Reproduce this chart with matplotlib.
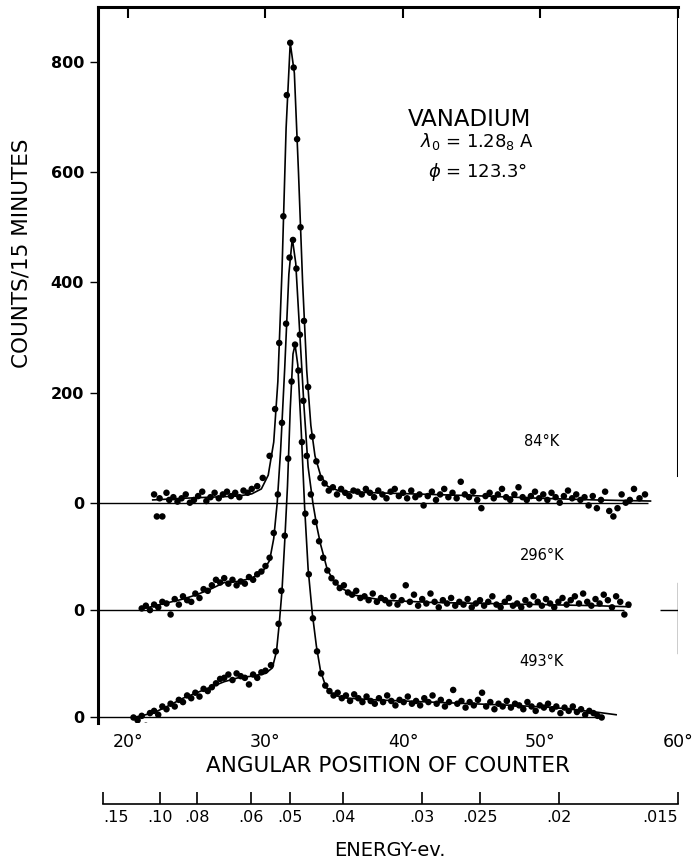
import numpy as np
import matplotlib
matplotlib.use('Agg')
import matplotlib.pyplot as plt

# smooth curves drawn through the data (angle in degrees, counts / 15 min)
line84_angle = [21.8, 24.0, 26.0, 28.0, 29.0, 29.7, 30.2, 30.6, 30.9, 31.2, 31.5, 31.8, 32.1, 32.4, 32.7,
                33.0, 33.3, 33.6, 34.0, 34.5, 35.5, 38.0, 42.0, 46.0, 50.0, 54.0, 58.0]
line84_counts = [5, 8, 10, 12, 16, 25, 50, 110, 220, 420, 680, 835, 780, 600, 400,
                 240, 140, 85, 50, 30, 20, 18, 15, 12, 8, 5, 3]

line296_angle = [21.0, 22.0, 23.0, 24.0, 25.0, 26.0, 27.0, 28.0, 29.0, 29.8, 30.3, 30.6, 30.85, 31.1, 31.4,
                 31.7, 31.95, 32.2, 32.5, 32.8, 33.1, 33.45, 33.75, 34.0, 34.5, 35.0, 35.5, 36.5, 38.5,
                 42.0, 46.0, 50.0, 54.0, 56.5]
line296_counts = [2, 8, 14, 20, 28, 38, 50, 52, 58, 70, 90, 130, 194, 290, 440,
                  610, 675, 630, 500, 370, 260, 194, 150, 120, 73, 52, 40, 27, 18,
                  14, 12, 10, 8, 6]

line493_angle = [20.3, 21.0, 22.0, 23.0, 24.0, 25.0, 26.0, 27.0, 28.0, 29.0, 30.0, 30.5, 30.8, 31.0, 31.2,
                 31.4, 31.6, 31.8, 32.0, 32.15, 32.35, 32.6, 32.85, 33.1, 33.4, 33.7, 34.0, 34.4, 35.0,
                 36.0, 38.0, 40.0, 44.0, 48.0, 51.0, 54.0, 55.5]
line493_counts = [0, 3, 10, 22, 35, 45, 55, 65, 72, 75, 80, 90, 120, 170, 230,
                  320, 420, 560, 660, 677, 640, 520, 380, 270, 190, 130, 85, 55, 40,
                  35, 32, 30, 26, 22, 18, 10, 5]

# measured points
pts84_angle = [21.9, 22.1, 22.3, 22.5, 22.8, 23.0, 23.3, 23.6, 23.9, 24.2, 24.5, 24.8, 25.1, 25.4, 25.7,
               26.0, 26.3, 26.6, 26.9, 27.2, 27.5, 27.8, 28.1, 28.4, 28.7, 29.0, 29.4, 29.8, 30.3, 30.7,
               31.0, 31.3, 31.55, 31.8, 32.05, 32.3, 32.55, 32.8, 33.1, 33.4, 33.7, 34.0, 34.3, 34.6,
               34.9, 35.2, 35.5, 35.8, 36.1, 36.4, 36.7, 37.0, 37.3, 37.6, 37.9, 38.2, 38.5, 38.8, 39.1,
               39.4, 39.7, 40.0, 40.3, 40.6, 40.9, 41.2, 41.5, 41.8, 42.1, 42.4, 42.7, 43.0, 43.3, 43.6,
               43.9, 44.2, 44.5, 44.8, 45.1, 45.4, 45.7, 46.0, 46.3, 46.6, 46.9, 47.2, 47.5, 47.8, 48.1,
               48.4, 48.7, 49.0, 49.3, 49.6, 49.9, 50.2, 50.5, 50.8, 51.1, 51.4, 51.7, 52.0, 52.3, 52.6,
               52.9, 53.2, 53.5, 53.8, 54.1, 54.4, 54.7, 55.0, 55.3, 55.6, 55.9, 56.2, 56.5, 56.8, 57.2,
               57.6]
pts84_counts = [15, -25, 8, -25, 18, 5, 10, 2, 8, 15, 0, 5, 12, 20, 3,
                10, 18, 8, 15, 20, 12, 18, 10, 22, 18, 25, 30, 45, 85, 170,
                290, 520, 740, 835, 790, 660, 500, 330, 210, 120, 75, 45, 35, 22,
                28, 15, 25, 18, 12, 22, 20, 15, 25, 18, 10, 22, 15, 8, 20,
                25, 12, 18, 8, 22, 10, 15, -5, 12, 20, 5, 15, 25, 10, 18,
                8, 38, 15, 10, 20, 5, -10, 12, 18, 8, 15, 25, 10, 5, 15,
                28, 10, 5, 12, 20, 8, 15, 5, 18, 10, 0, 12, 22, 8, 15,
                5, 10, -5, 12, -10, 5, 20, -15, -25, -10, 15, 0, 5, 25, 8,
                15]

pts296_angle = [21.0, 21.3, 21.6, 21.9, 22.2, 22.5, 22.8, 23.1, 23.4, 23.7, 24.0, 24.3, 24.6, 24.9, 25.2,
                25.5, 25.8, 26.1, 26.4, 26.7, 27.0, 27.3, 27.6, 27.9, 28.2, 28.5, 28.8, 29.1, 29.4, 29.7,
                30.0, 30.3, 30.6, 30.9, 31.2, 31.5, 31.75, 32.0, 32.25, 32.5, 32.75, 33.0, 33.3, 33.6,
                33.9, 34.2, 34.5, 34.8, 35.1, 35.4, 35.7, 36.0, 36.3, 36.6, 36.9, 37.2, 37.5, 37.8, 38.1,
                38.4, 38.7, 39.0, 39.3, 39.6, 39.9, 40.2, 40.5, 40.8, 41.1, 41.4, 41.7, 42.0, 42.3, 42.6,
                42.9, 43.2, 43.5, 43.8, 44.1, 44.4, 44.7, 45.0, 45.3, 45.6, 45.9, 46.2, 46.5, 46.8, 47.1,
                47.4, 47.7, 48.0, 48.3, 48.6, 48.9, 49.2, 49.5, 49.8, 50.1, 50.4, 50.7, 51.0, 51.3, 51.6,
                51.9, 52.2, 52.5, 52.8, 53.1, 53.4, 53.7, 54.0, 54.3, 54.6, 54.9, 55.2, 55.5, 55.8, 56.1,
                56.4]
pts296_counts = [3, 8, 0, 10, 5, 15, 12, -8, 20, 10, 25, 18, 15, 30, 22,
                 38, 35, 45, 55, 50, 58, 48, 55, 45, 52, 48, 60, 55, 65, 70,
                 80, 95, 140, 210, 340, 520, 640, 672, 620, 500, 380, 280, 210, 160,
                 125, 95, 72, 58, 50, 40, 45, 32, 28, 35, 22, 25, 18, 30, 15,
                 22, 18, 12, 25, 10, 18, 45, 15, 28, 8, 20, 12, 30, 15, 5,
                 18, 12, 22, 8, 15, 10, 20, 5, 12, 18, 8, 15, 25, 10, 5,
                 15, 22, 8, 12, 5, 18, 10, 25, 15, 8, 20, 12, 5, 15, 22,
                 10, 18, 25, 12, 30, 15, 8, 20, 12, 28, 18, 5, 25, 15, -8,
                 10]

pts493_angle = [20.4, 20.7, 21.0, 21.3, 21.6, 21.9, 22.2, 22.5, 22.8, 23.1, 23.4, 23.7, 24.0, 24.3, 24.6,
                24.9, 25.2, 25.5, 25.8, 26.1, 26.4, 26.7, 27.0, 27.3, 27.6, 27.9, 28.2, 28.5, 28.8, 29.1,
                29.4, 29.7, 30.0, 30.4, 30.75, 30.95, 31.15, 31.4, 31.65, 31.9, 32.15, 32.4, 32.65, 32.9,
                33.15, 33.45, 33.75, 34.05, 34.35, 34.65, 34.95, 35.25, 35.55, 35.85, 36.15, 36.45, 36.75,
                37.05, 37.35, 37.65, 37.95, 38.25, 38.55, 38.85, 39.15, 39.45, 39.75, 40.05, 40.35, 40.65,
                40.95, 41.25, 41.55, 41.85, 42.15, 42.45, 42.75, 43.05, 43.35, 43.65, 43.95, 44.25, 44.55,
                44.85, 45.15, 45.45, 45.75, 46.05, 46.35, 46.65, 46.95, 47.25, 47.55, 47.85, 48.15, 48.45,
                48.75, 49.05, 49.35, 49.65, 49.95, 50.25, 50.55, 50.85, 51.15, 51.45, 51.75, 52.05, 52.35,
                52.65, 52.95, 53.25, 53.55, 53.85, 54.15, 54.45]
pts493_counts = [0, -5, 3, -15, 8, 12, 5, 20, 15, 25, 20, 32, 28, 40, 35,
                 45, 38, 52, 48, 55, 62, 70, 72, 78, 68, 80, 75, 72, 60, 78,
                 72, 82, 85, 95, 120, 170, 230, 330, 470, 610, 677, 630, 500, 370,
                 260, 180, 120, 80, 58, 48, 40, 45, 35, 40, 30, 42, 35,
                 28, 38, 30, 25, 35, 28, 40, 30, 22, 32, 28, 38, 25,
                 30, 22, 35, 28, 40, 25, 32, 20, 28, 50, 25, 30, 18,
                 28, 22, 32, 45, 20, 28, 15, 25, 20, 30, 18, 25, 22,
                 15, 28, 20, 12, 22, 18, 25, 15, 20, 8, 18, 12, 20,
                 10, 15, 5, 12, 8, 3, 0]

temps = ['84°K', '296°K', '493°K']
offsets = [0, -195, -390]
baseline_end = [57.8, 56.1, 54.5]

energy_ticks = [0.15, 0.10, 0.08, 0.06, 0.05, 0.04, 0.03, 0.025, 0.02, 0.015]
energy_labels = ['.15', '.10', '.08', '.06', '.05', '.04', '.03', '.025', '.02', '.015']
angle_ticks = [20, 30, 40, 50, 60]
count_ticks = [800, 600, 400, 200]


def energy_to_angle(e):
    # counter angle (2 theta) for a given scattered energy, 0.015 ev at 60 deg
    return 2 * np.degrees(np.arcsin(0.5 * np.sqrt(0.015 / np.asarray(e))))


plt.rcParams['font.family'] = 'DejaVu Sans'

W, H = 692, 866
fig = plt.figure(figsize=(W / 100, H / 100), dpi=100)
ax = fig.add_axes([98 / W, 1 - 723 / H, 580 / W, 716 / H])

lines = [(line84_angle, line84_counts), (line296_angle, line296_counts), (line493_angle, line493_counts)]
pts = [(pts84_angle, pts84_counts), (pts296_angle, pts296_counts), (pts493_angle, pts493_counts)]

xmin, xmax = 17.82, 60.0
for (la, lc), (pa, pc), off, xend in zip(lines, pts, offsets, baseline_end):
    ax.hlines(off, xmin, xend, color='black', lw=1.0)
    ax.plot(la, np.array(lc) + off, color='black', lw=1.2)
    ax.scatter(pa, np.array(pc) + off, s=22, color='black', edgecolors='none', zorder=3)

# short mark on the right edge at the middle baseline
ax.hlines(offsets[1], 58.7, xmax, color='black', lw=1.0)

ax.set_xlim(xmin, xmax)
ax.set_ylim(-400, 900)

ax.set_yticks(count_ticks + offsets)
ax.set_yticklabels([str(v) for v in count_ticks] + ['0', '0', '0'], fontsize=11.5, fontweight='bold')
ax.tick_params(axis='y', direction='out', length=6, width=1, pad=4)

ax.set_xticks(angle_ticks)
ax.set_xticklabels([f'{a}°' for a in angle_ticks], fontsize=12.5)
ax.tick_params(axis='x', bottom=False, top=True, direction='in', length=8, width=1.5,
               labelbottom=True, labeltop=False, pad=7)

for side in ['right', 'bottom']:
    ax.spines[side].set_visible(False)
ax.spines['left'].set_linewidth(2.2)
ax.spines['top'].set_linewidth(2.2)

# broken right frame
ax.axvline(xmax, ymin=0.346, ymax=1.0, color='black', lw=2.2)
ax.axvline(xmax, ymin=0.098, ymax=0.196, color='black', lw=1.0)

# energy scale below the angle axis
ax2 = fig.add_axes([98 / W, 1 - 804 / H, 580 / W, 0.0001])
ax2.set_xlim(xmin, xmax)
ax2.set_yticks([])
for side in ['left', 'right', 'top']:
    ax2.spines[side].set_visible(False)
ax2.spines['bottom'].set_bounds(energy_to_angle(0.15), xmax)
ax2.spines['bottom'].set_linewidth(1.2)
ax2.set_xticks(energy_to_angle(energy_ticks))
ax2.set_xticklabels(energy_labels, fontsize=11.5)
ax2.tick_params(axis='x', direction='in', length=9, width=1.2, pad=4)
ax2.get_xticklabels()[-1].set_horizontalalignment('right')
ax2.get_xticklabels()[0].set_horizontalalignment('left')

fig.text(388 / W, 1 - 766 / H, 'ANGULAR POSITION OF COUNTER', fontsize=15.5, ha='center', va='center')
fig.text(390 / W, 1 - 851 / H, 'ENERGY-ev.', fontsize=14, ha='center', va='center')
fig.text(22 / W, 1 - 253 / H, 'COUNTS/15 MINUTES', fontsize=15.5, rotation=90, ha='center', va='center')

fig.text(470 / W, 1 - 119 / H, 'VANADIUM', fontsize=16.5, ha='center', va='center')
fig.text(477 / W, 1 - 141 / H, r'$\lambda_0$ = 1.28$_8$ A', fontsize=13, ha='center', va='center')
fig.text(478 / W, 1 - 172 / H, r'$\phi$ = 123.3°', fontsize=13, ha='center', va='center')

for t, y in zip(temps, [441, 555, 662]):
    fig.text(542 / W, 1 - y / H, t, fontsize=10.5, ha='center', va='center')

fig.savefig('out.png', dpi=100)
